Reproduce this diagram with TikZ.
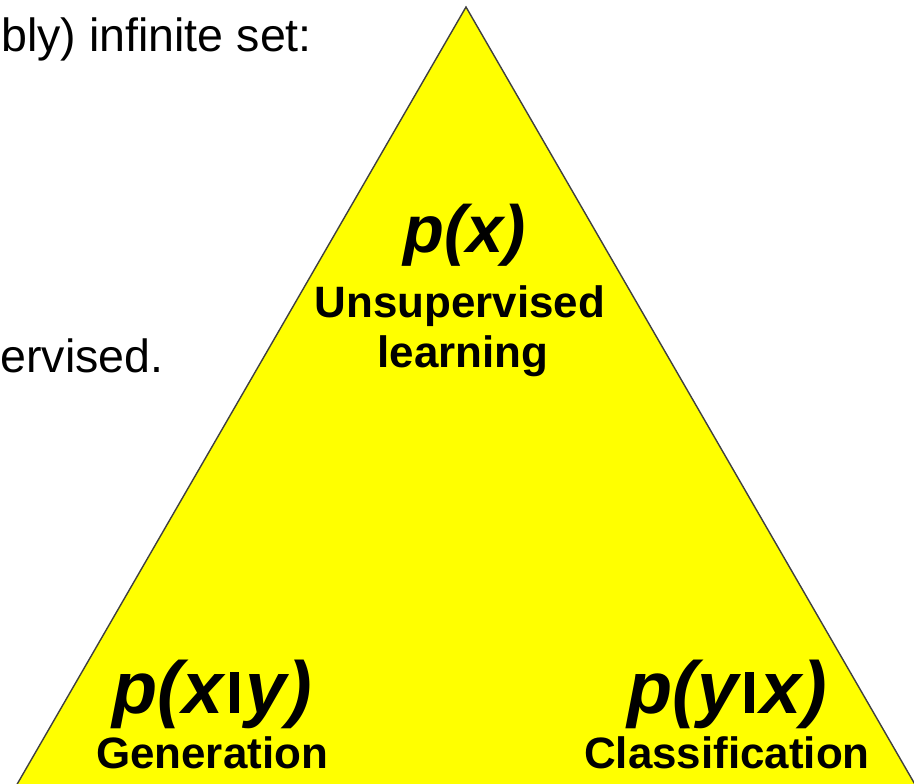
\documentclass[tikz,border=0pt]{standalone}
\usepackage{fontspec}
\setmainfont{Liberation Sans}
\definecolor{pureyellow}{RGB}{255,255,0}
\newcommand{\condbar}{\hspace{0.1em}{\upshape\rule{0.11em}{0.56em}}\hspace{0.1em}}

\begin{document}
\begin{tikzpicture}[x=0.02cm, y=-0.02cm,
    every node/.style={inner sep=0pt},
    slidetext/.style={font=\fontsize{26.5}{30}\selectfont, anchor=base west},
    prob/.style={font=\bfseries\itshape\fontsize{38}{40}\selectfont, anchor=base},
    bigprob/.style={font=\bfseries\itshape\fontsize{42}{44}\selectfont, anchor=base},
    task/.style={font=\bfseries\fontsize{25}{28}\selectfont, anchor=base}]
  \useasboundingbox (0,0) rectangle (914,784);
  % leftovers of the slide text
  \node[slidetext] (intro) at (1,52) {bly) infinite set:};
  \node[slidetext] (rest) at (0,373) {ervised.};
  % the triangle, cut off by the page
  \begin{scope}
    \clip (0,0) rectangle (914,784);
    \draw[black!75, line width=0.8pt, fill=pureyellow] (466,7) -- (8,800) -- (924,800) -- cycle;
  \end{scope}
  % top corner
  \node[prob] (px) at (465,253) {p(x)};
  \node[task] (unsup) at (460,317) {Unsupervised};
  \node[task] (learn) at (463,367) {learning};
  % bottom corners
  \foreach \nm/\xc/\dist/\lab in {gen/212/{p(x\condbar y)}/Generation, cls/727/{p(y\condbar x)}/Classification} {
    \node[bigprob] (\nm-p) at (\xc,713) {\dist};
    \node[task] (\nm-t) at (\xc,768) {\lab};
  }
\end{tikzpicture}
\end{document}
